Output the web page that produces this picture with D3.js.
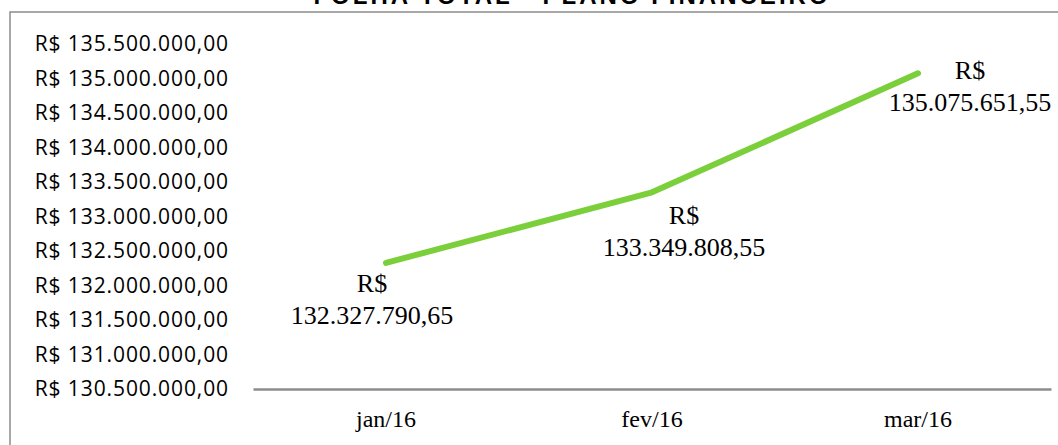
<!DOCTYPE html>
<html><head><meta charset="utf-8">
<script src="https://cdn.jsdelivr.net/npm/d3@7"></script>
<style>body{margin:0;background:#fff;overflow:hidden}</style>
</head><body>
<svg id="c" width="1058" height="445"></svg>
<script>
const title = "FOLHA TOTAL - PLANO FINANCEIRO";
const categories = ["jan/16", "fev/16", "mar/16"];
const values = [132327790.65, 133349808.55, 135075651.55];
const labels = ["132.327.790,65", "133.349.808,55", "135.075.651,55"];
const yTicks = [130500000,131000000,131500000,132000000,132500000,133000000,133500000,134000000,134500000,135000000,135500000];

const svg = d3.select("#c");
svg.append("rect").attr("x",10).attr("y",12).attr("width",1100).attr("height",500)
  .attr("fill","#fff").attr("stroke","#8c8c8c").attr("stroke-width",1.5);
svg.append("text").attr("x",572).attr("y",4).attr("text-anchor","middle")
  .attr("font-family","Liberation Sans, Arial").attr("font-weight","bold").attr("font-size",24)
  .attr("letter-spacing",3).text(title);

const x = d3.scaleBand().domain(categories).range([253,1051]);
const y = d3.scaleLinear().domain([130500000,135500000]).range([389,44]);

const fmt = v => "R$ " + d3.format(",.2f")(v).replace(/,/g,"#").replace(/\./g,",").replace(/#/g,".");
const yAxis = svg.append("g").attr("transform","translate(229,0)")
  .call(d3.axisLeft(y).tickValues(yTicks).tickSize(0).tickPadding(0).tickFormat(fmt));
yAxis.select(".domain").remove();
yAxis.selectAll("text").attr("font-family","Open Sans, sans-serif").attr("font-size",21).attr("letter-spacing",0.9).attr("fill","#000");

const xAxis = svg.append("g").attr("transform","translate(0,389)")
  .call(d3.axisBottom(x).tickSize(0).tickPadding(21));
xAxis.select(".domain").attr("stroke","#8c8c8c").attr("stroke-width",2.5);
xAxis.selectAll("text").attr("font-family","Liberation Serif, Times New Roman, serif").attr("font-size",24).attr("fill","#000");

const cx = d => x(d) + x.bandwidth()/2;
const line = d3.line().x((d,i)=>cx(categories[i])).y(d=>y(d));
svg.append("path").datum(values).attr("d",line).attr("fill","none")
  .attr("stroke","#7bcf3b").attr("stroke-width",6).attr("stroke-linecap","round").attr("stroke-linejoin","round");

const offs = [[-14,29],[32,32],[52,6]];
const lab = svg.append("g").attr("font-family","Liberation Serif, Times New Roman, serif").attr("font-size",26).attr("fill","#000").attr("text-anchor","middle");
values.forEach((v,i)=>{
  const px = cx(categories[i]) + offs[i][0], py = y(v) + offs[i][1];
  lab.append("text").attr("x",px).attr("y",py).text("R$");
  lab.append("text").attr("x",px).attr("y",py+32).text(labels[i]);
});
</script>
</body></html>
